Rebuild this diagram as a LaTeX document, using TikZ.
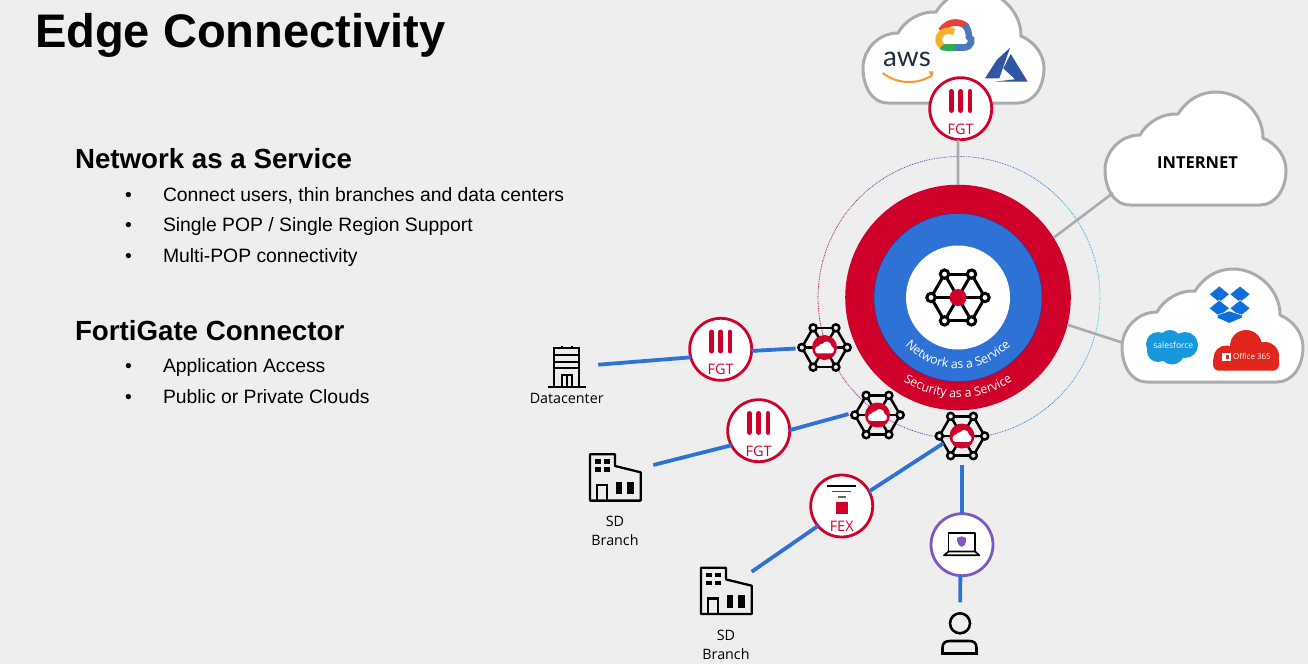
\documentclass[tikz,border=0pt]{standalone}
\usepackage{fontspec}
\setmainfont{Open Sans}
\newfontfamily\headfont{Liberation Sans}
\newfontfamily\awsfont{Lato}
\usetikzlibrary{calc,decorations.text}
\definecolor{pagebg}{HTML}{EEEEEE}
\definecolor{fortired}{HTML}{CF0029}
\definecolor{linkblue}{HTML}{2E72D6}
\definecolor{linkgray}{HTML}{ABABAB}
\definecolor{clientpurple}{HTML}{7E57C2}
\definecolor{dotcyan}{HTML}{22DCEB}
\definecolor{dotsky}{HTML}{2CA8E0}
\definecolor{dotblue}{HTML}{3A7FD0}
\definecolor{dotindigo}{HTML}{6A5CBE}
\definecolor{dotpurple}{HTML}{7D3A9E}
\definecolor{dotplum}{HTML}{A01E6A}
\definecolor{dotcrimson}{HTML}{C00A3C}
\definecolor{awsnavy}{HTML}{232F3E}
\definecolor{awsorange}{HTML}{F79A2E}
\definecolor{gcpred}{HTML}{E8403A}
\definecolor{gcpblue}{HTML}{4C78C0}
\definecolor{gcpgreen}{HTML}{34A853}
\definecolor{gcpyellow}{HTML}{F6B12B}
\definecolor{azureblue}{HTML}{2F55A4}
\definecolor{boxblue}{HTML}{0E6FDB}
\definecolor{sfblue}{HTML}{1798DC}
\definecolor{officered}{HTML}{E0261D}
\newcommand\ringfont{\fontsize{12.3}{12}\selectfont}
\tikzset{x=1pt, y=-1pt,
        every node/.style={inner sep=0pt, outer sep=0pt},
        ring/.style={circle, minimum size=#1}, % Concentric discs of the service
        badge/.style={circle, draw=#1, line width=2.8pt, fill=white, minimum size=62pt}, % Round icons on a link
        badgetext/.style={fortired, font=\fontsize{14.5}{15}\selectfont},
        hubspot/.style={circle, minimum size=58pt},
        bluelink/.style={draw=linkblue, line width=3.8pt},
        graylink/.style={draw=linkgray, line width=2.6pt},
        cloudline/.style={draw=linkgray, line width=3pt, fill=white},
        iconline/.style={draw=black, line width=2.3pt},
        heading/.style={anchor=base west, font=\headfont\bfseries\fontsize{27.7}{28}\selectfont},
        item/.style={anchor=base west, font=\headfont\fontsize{19.35}{20}\selectfont},
        dotpiece/.style={line width=0.8pt, dash pattern=on 0.8pt off 0.9pt},
        iconlabel/.style={font=\fontsize{14.3}{15}\selectfont},
        pics/cloudblob/.style={code={
            \path[pic actions] (25,113) .. controls (8,113) and (0,95) .. (0,78)
                .. controls (0,60) and (15,43) .. (35,43)
                .. controls (42,30) and (58,21) .. (73,22)
                .. controls (82,8) and (95,0) .. (111,0)
                .. controls (135,0) and (158,20) .. (158,46)
                .. controls (172,52) and (181,65) .. (181,78)
                .. controls (181,98) and (170,113) .. (155,113) -- cycle;
        }},
        pics/meshicon/.style={code={ % Hexagon with its spokes
            \foreach \ang in {0,60,...,300} {
                \draw (0,0) -- (\ang:27);
                \draw (\ang:27) -- (\ang+60:27);
            }
            \foreach \ang in {0,60,...,300}
                \draw[fill=#1] (\ang:27) circle[radius=4.2];
        }},
        pics/hubcore/.style={code={
            \fill[fortired] (0,0) circle[radius=12.5];
            \pic[fill=white, scale=0.105] at (-9.5,-6) {cloudblob};
        }},
        pics/fgtmark/.style={code={
            \foreach \xbar in {-9.3,0,9.3}
                \draw[fortired, line width=4.8pt, line cap=round] (\xbar,-17.3) -- (\xbar,1.8);
            \node[badgetext] (-text) at (0,20.5) {FGT};
        }},
        pics/branchicon/.style={code={
            \draw[iconline, line join=round] (0,0) -- (25,0) -- (25,11.7) -- (50.7,18) -- (50.7,46.3) -- (0,46.3) -- cycle;
            \foreach \xwin in {5,14.3}
                \foreach \ywin in {5,13}
                    \fill (\xwin,\ywin) rectangle ++(6,4.7);
            \draw[iconline] (6.7,46.3) -- (6.7,30.7) -- (17.3,30.7) -- (17.3,46.3);
            \fill (26,27.3) rectangle (31.7,40);
            \fill (37.3,27.3) rectangle (44,40);
        }}
        }
\begin{document}
\begin{tikzpicture}
    \fill[pagebg] (0,0) rectangle (1308,664);
    \clip (0,0) rectangle (1308,664);

    % Text on the left
    \node[anchor=base west, font=\headfont\bfseries\fontsize{47.1}{47}\selectfont] (title) at (35,47) {Edge Connectivity};
    \node[heading] (naashead) at (75,168) {Network as a Service};
    \node[heading] (fgchead)  at (75,340) {FortiGate Connector};
    \foreach \yitem/\nameitem/\textitem in {
            201/itema/{Connect users, thin branches and data centers},
            231/itemb/{Single POP / Single Region Support},
            262/itemc/{Multi-POP connectivity},
            372/itemd/{Application Access},
            403/iteme/{Public or Private Clouds}} {
        \node[item] (\nameitem) at (163,\yitem) {\textitem};
        \node[item] (\nameitem dot) at (125,\yitem) {\textbullet};
    }

    % Dotted orbit
    \foreach \ang/\tone in {0/dotcyan,30/dotsky,330/dotsky,60/dotblue,300/dotblue,90/dotindigo,270/dotindigo,
                            120/dotpurple,240/dotpurple,150/dotplum,210/dotplum,180/dotcrimson}
        \draw[dotpiece, draw=\tone] plot[smooth, domain=\ang-15:\ang+15, samples=7] ({959+141*cos(\x)},{297.5+141*sin(\x)});

    % Clouds
    \pic[cloudline] at (863,-10) {cloudblob};
    \pic[cloudline] at (1105,92) {cloudblob};
    \pic[cloudline] at (1122,269) {cloudblob};
    \node[font=\bfseries\fontsize{16.5}{17}\selectfont] (internet) at (1197.5,163) {INTERNET};
    \coordinate (internetend) at (1113,193);
    \coordinate (saasend)     at (1122,342.5);

    % Logos in the public cloud
    \node[anchor=base, text=awsnavy, font=\awsfont\fontsize{28}{28}\selectfont] (aws) at (907,66.5) {aws};
    \draw[awsorange, line width=2pt] (882.7,73) .. controls (898,85) and (918,84) .. (931,76);
    \fill[awsorange] (928.5,71.3) -- (933.7,71.3) -- (932,77.8) -- cycle;
    \draw[gcpred, line width=6.6pt] (941,31) .. controls (945,25) and (950,22.5) .. (955,22.5) .. controls (960,22.5) and (964,24) .. (967,27);
    \draw[gcpblue, line width=6.6pt] (965,25) .. controls (968,29) and (969,33) .. (969,37) .. controls (973,38) and (972,47.5) .. (964,47.5) -- (955,47.5);
    \draw[gcpgreen, line width=6.6pt] (955,47.5) -- (946,47.5) .. controls (944,47.5) and (942,47) .. (941,46);
    \draw[gcpyellow, line width=6.6pt] (954,32) .. controls (949,29) and (941,31) .. (939,37) .. controls (938,41) and (939,44) .. (941.5,46);
    \fill[azureblue] (1010,47.7) -- (996.7,60) -- (985,78.3) -- (999.3,78.3) -- cycle;
    \fill[azureblue] (1010.7,54) -- (1003.3,68.3) -- (1015,79.3) -- (994.3,81.7) -- (1027.7,81.7) -- cycle;

    % Logos in the application cloud
    \foreach \xbox/\ybox in {1219.3/294.3,1240/294.3,1219.3/308.3,1240/308.3}
        \filldraw[fill=boxblue, draw=white, line width=0.5pt] (\xbox-10.2,\ybox) -- (\xbox,\ybox-8.3) -- (\xbox+10.2,\ybox) -- (\xbox,\ybox+8.3) -- cycle;
    \filldraw[fill=boxblue, draw=white, line width=0.5pt] (1217.3,315) -- (1229.3,311) -- (1242,315) -- (1242,318) -- (1229.3,323.3) -- (1217.3,318) -- cycle;
    \fill[sfblue] (1158,344) circle[radius=12] (1170,341) circle[radius=11] (1185,345) circle[radius=13]
        (1172,352) circle[radius=12.5] (1158,351) circle[radius=11];
    \node[white, font=\fontsize{8.5}{9}\selectfont] (salesforce) at (1173.3,345) {salesforce};
    \fill[officered] (1246,346) circle[radius=16] (1265,356) circle[radius=14] (1226,358) circle[radius=12.5];
    \fill[officered, rounded corners=6] (1213,355) rectangle (1279,370.7);
    \fill[white] (1222,352.5) rectangle (1231,361);
    \fill[officered] (1225.5,355) rectangle (1229,358.5);
    \node[anchor=west, white, font=\fontsize{8}{9}\selectfont] (office) at (1233,356.7) {Office 365};

    % Service rings
    \node[ring=225.6pt, fill=fortired] (sase) at (958,297.5) {};
    \node[ring=168pt, fill=linkblue, draw=blue!50!black!80, line width=0.5pt] (naas) at (sase) {};
    \node[ring=104pt, fill=white] (core) at (sase) {};
    \pic[iconline, line width=3pt] at (core) {meshicon=white};
    \fill[fortired] (core) circle[radius=8.5];
    \path[decorate, decoration={text along path, text color=white, text align=center,
        text={|\ringfont|Network as a Service}}] (sase) ++(136:71) arc[start angle=136, end angle=44, radius=71];
    \path[decorate, decoration={text along path, text color=white, text align=center,
        text={|\ringfont|Security as a Service}}] (sase) ++(126:100) arc[start angle=126, end angle=54, radius=100];

    % Icons on the links
    \node[badge=fortired] (fgttop) at (960.7,108.7) {};
    \pic (fgttopmark) at (fgttop) {fgtmark};
    \node[badge=fortired] (fgtdc) at (720.7,349.3) {};
    \pic (fgtdcmark) at (fgtdc) {fgtmark};
    \node[badge=fortired] (fgtbranch) at (758.7,430.7) {};
    \pic (fgtbranchmark) at (fgtbranch) {fgtmark};
    \node[badge=fortired] (fex) at (841.7,506) {};
    \draw[black, line width=1.6pt] ($(fex)+(-14.7,-20)$) -- ++(29.4,0);
    \draw[black!70, line width=1.4pt] ($(fex)+(-9.7,-14.7)$) -- ++(19.4,0);
    \draw[black!60, line width=1.4pt] ($(fex)+(-4,-9)$) -- ++(8,0);
    \fill[fortired] ($(fex)+(-6,-4)$) rectangle ++(12.3,11.7);
    \node[badgetext] (fextext) at ($(fex)+(0,20)$) {FEX};
    \node[badge=clientpurple] (laptop) at (962,544.7) {};
    \draw[iconline, line width=1.7pt, line join=round] (948.5,552) -- (948.5,533) -- (975,533) -- (975,552);
    \draw[iconline, line width=1.7pt, line join=round] (948.5,551.5) -- (975,551.5) -- (979.3,555.3) -- (944,555.3) -- cycle;
    \fill[clientpurple] (957.2,538) -- (961.7,536.3) -- (966.2,538) -- (966.2,541) .. controls (966.2,544) and (964,546) .. (961.7,547) .. controls (959.4,546) and (957.2,544) .. (957.2,541) -- cycle;

    % Hubs on the orbit
    \foreach \hubname/\xhub/\yhub in {hubdc/824.5/347.5, hubbranch/877.5/415, hubfex/962/436} {
        \node[hubspot] (\hubname) at (\xhub,\yhub) {};
        \pic[iconline, line width=2.5pt, scale=0.84] at (\hubname) {meshicon=pagebg};
        \pic at (\hubname) {hubcore};
    }
    \coordinate (hubfexin) at (943.3,443.3);

    % Sites
    \node[draw=black, line width=2pt, minimum width=25pt, minimum height=39pt] (dcbody) at (566.8,367.2) {};
    \draw[iconline] (547.7,386.7) -- (586,386.7);
    \foreach \ystripe in {355,361.7,368.3}
        \draw[line width=1.8pt] ($(dcbody.west)+(0,\ystripe-367.2)$) -- ++(25,0);
    \draw[line width=1.7pt] (561.7,386.7) -- (561.7,375) -- (571.7,375) -- (571.7,386.7) (566.7,375) -- (566.7,386.7);
    \draw[line width=1.7pt] (561.7,347.7) -- (561.7,345.7) (571.7,347.7) -- (571.7,345.7);
    \node[iconlabel] (dclabel) at (566.7,398.7) {Datacenter};
    \pic at (590,454.3) {branchicon};
    \pic at (701,567.7) {branchicon};
    \node[iconlabel] (sda) at (615,521.7) {SD};
    \node[iconlabel] (branchlabela) at (615,540) {Branch};
    \node[iconlabel] (sdb) at (726,635.7) {SD};
    \node[iconlabel] (branchlabelb) at (726,654) {Branch};
    \coordinate (branchaend) at (653.3,465);
    \coordinate (branchbend) at (751.7,571.7);
    \node[circle, draw=black, line width=2.6pt, minimum size=20pt] (person) at (960,623.3) {};
    \draw[iconline, line width=2.6pt] (942.5,653.5) -- (942.5,648) .. controls (942.5,643) and (945,641) .. (950,641) -- (969,641)
        .. controls (974,641) and (976.5,643) .. (976.5,648) -- (976.5,653.5) -- cycle;

    % Links
    \draw[graylink] (fgttop.265) -- (sase.90);
    \draw[graylink] (sase.32) -- (internetend);
    \draw[graylink] (sase.-14) -- (saasend);
    \draw[bluelink, shorten <=19pt] (dcbody) -- (fgtdc.195);
    \draw[bluelink] (fgtdc.-3) -- (hubdc.182);
    \draw[bluelink] (branchaend) -- (fgtbranch.208);
    \draw[bluelink] (fgtbranch.1) -- (hubbranch.178);
    \draw[bluelink] (branchbend) -- (fex.220);
    \draw[bluelink] (fex.28) -- (hubfexin);
    \draw[bluelink] (laptop.90) -- (hubfex.270);
    \draw[bluelink, shorten >=11pt] (laptop.267) -- (person);
\end{tikzpicture}
\end{document}
